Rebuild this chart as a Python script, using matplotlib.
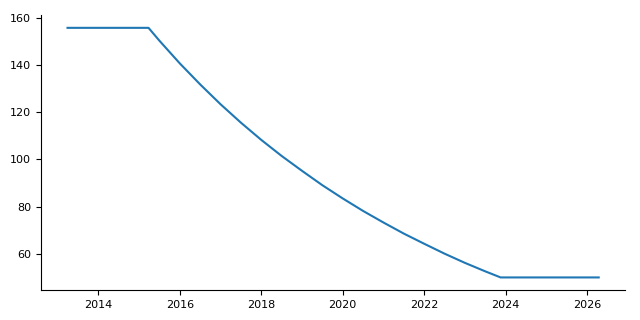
import matplotlib
matplotlib.use("Agg")
import matplotlib.pyplot as plt

# values (decimal years)
years = [2013.24, 2015.23, 2015.5, 2016.0, 2016.5, 2017.0, 2017.5, 2018.0,
         2018.5, 2019.0, 2019.5, 2020.0, 2020.5, 2021.0, 2021.5, 2022.0,
         2022.5, 2023.0, 2023.5, 2023.88, 2026.29]
values = [155.8, 155.8, 150.3, 140.7, 131.8, 123.4, 115.6, 108.3,
          101.5, 95.2, 89.1, 83.5, 78.2, 73.3, 68.6, 64.3,
          60.1, 56.2, 52.6, 50.0, 50.0]
xticks = [2014, 2016, 2018, 2020, 2022, 2024, 2026]

fig, ax = plt.subplots(figsize=(6.4, 3.2), dpi=100)
ax.plot(years, values, color='tab:blue')
ax.set_xticks(xticks, labels=[str(t) for t in xticks])
ax.tick_params(labelsize=8)
ax.spines['top'].set_visible(False)
ax.spines['right'].set_visible(False)
fig.subplots_adjust(left=0.064, right=0.977, top=0.952, bottom=0.094)
fig.savefig("out.png", dpi=100)
